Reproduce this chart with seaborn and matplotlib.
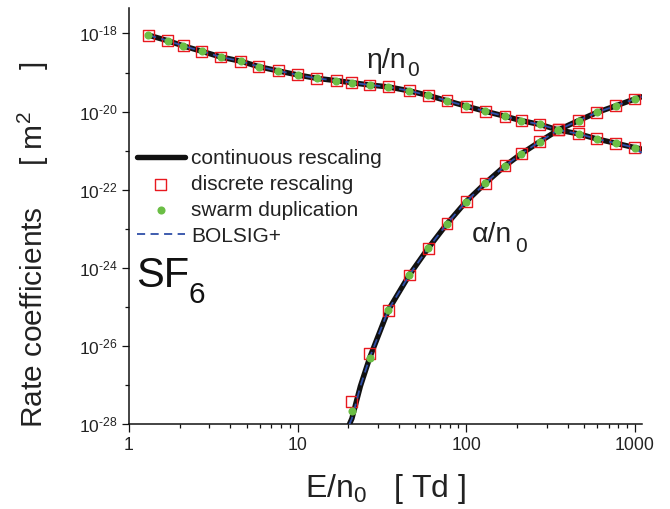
import numpy as np
import pandas as pd
import matplotlib
matplotlib.use("Agg")
import matplotlib.pyplot as plt
import seaborn as sns
from matplotlib.ticker import FixedLocator, NullFormatter, FuncFormatter

# ---------------- data ----------------
E_eta = [1.3, 1.7, 2.1, 2.7, 3.5, 4.6, 5.9, 7.7, 10.0, 13.0, 17.0, 21.0, 26.8, 34.5,
         46.0, 59.5, 77.0, 100.0, 130.0, 170.0, 212.0, 273.0, 352.0, 464.0, 596.0, 773.0, 1000.0]
eta_discrete = [9.1e-19, 6.5e-19, 4.8e-19, 3.5e-19, 2.5e-19, 1.95e-19, 1.41e-19, 1.10e-19,
                8.7e-20, 7.1e-20, 6.2e-20, 5.5e-20, 4.8e-20, 4.3e-20, 3.4e-20, 2.6e-20,
                1.9e-20, 1.38e-20, 1.02e-20, 7.6e-21, 5.9e-21, 4.7e-21, 3.4e-21, 2.7e-21,
                2.0e-21, 1.55e-21, 1.2e-21]
eta_swarm = eta_discrete

E_alpha = [21.0, 26.8, 34.5, 46.0, 59.5, 77.0, 100.0, 130.0, 170.0, 212.0, 273.0, 352.0,
           464.0, 596.0, 773.0, 1000.0]
alpha_discrete = [3.9e-28, 6.6e-27, 8.3e-26, 6.6e-25, 3.2e-24, 1.35e-23, 5.0e-23, 1.48e-22,
                  4.1e-22, 8.3e-22, 1.7e-21, 3.4e-21, 5.9e-21, 9.5e-21, 1.41e-20, 2.1e-20]
alpha_swarm = [2.2e-28, 5.1e-27, 8.3e-26, 6.6e-25, 3.2e-24, 1.35e-23, 5.0e-23, 1.48e-22,
               4.1e-22, 8.3e-22, 1.7e-21, 3.4e-21, 5.9e-21, 9.5e-21, 1.41e-20, 2.1e-20]

# continuous rescaling curves
E_eta_line = E_eta + [1100.0]
eta_line = eta_discrete + [1.1e-21]
E_alpha_line = [20.3, 21.0, 23.6, 26.8, 34.5, 46.0, 59.5, 77.0, 100.0, 130.0, 170.0, 212.0,
                273.0, 352.0, 464.0, 596.0, 773.0, 1000.0, 1100.0]
alpha_line = [1.0e-28, 1.4e-28, 9.5e-28, 5.1e-27, 8.3e-26, 6.6e-25, 3.2e-24, 1.35e-23,
              5.0e-23, 1.48e-22, 4.1e-22, 8.3e-22, 1.7e-21, 3.4e-21, 5.9e-21, 9.5e-21,
              1.41e-20, 2.1e-20, 2.4e-20]
# BOLSIG+ curves
eta_bolsig = eta_discrete + [8.7e-22]
alpha_bolsig = alpha_line

x_ticks = [1, 10, 100, 1000]
x_tick_labels = ["1", "10", "100", "1000"]
y_major = [1e-28, 1e-26, 1e-24, 1e-22, 1e-20, 1e-18]
y_minor = [1e-27, 1e-25, 1e-23, 1e-21, 1e-19]
x_minor = [m * d for d in (1, 10, 100) for m in range(2, 10)]

# ---------------- style ----------------
sns.set_theme(style="ticks")
plt.rcParams["font.family"] = ["Liberation Sans", "DejaVu Sans"]
plt.rcParams["mathtext.fontset"] = "custom"
plt.rcParams["mathtext.rm"] = "Liberation Sans"
plt.rcParams["mathtext.it"] = "Liberation Sans:italic"
plt.rcParams["mathtext.bf"] = "Liberation Sans:bold"
plt.rcParams["axes.unicode_minus"] = False

W, H = 670, 509
fig = plt.figure(figsize=(W / 100, H / 100), dpi=100)
L, R, B, T = 129.0, 641.7, 424.3, 8.3
ax = fig.add_axes([L / W, 1 - B / H, (R - L) / W, (B - T) / H])

BLACK = "#111111"
RED = "#E8191F"
GREEN = "#6BBE45"
BLUE = "#2F4FA8"

sns.lineplot(x=E_eta_line, y=eta_line, color=BLACK, lw=3.9, ax=ax, sort=False,
             estimator=None, label="continuous rescaling", zorder=2)
sns.lineplot(x=E_alpha_line, y=alpha_line, color=BLACK, lw=3.9, ax=ax, sort=False,
             estimator=None, zorder=2)
sns.scatterplot(x=E_eta, y=eta_discrete, marker="s", s=62, fc="none", ec=RED, linewidth=1.0,
                ax=ax, label="discrete rescaling", zorder=3)
sns.scatterplot(x=E_alpha, y=alpha_discrete, marker="s", s=62, fc="none", ec=RED, linewidth=1.0,
                ax=ax, zorder=3)
sns.lineplot(x=E_eta_line, y=eta_bolsig, color=BLUE, lw=1.3, ax=ax, sort=False,
             estimator=None, label="BOLSIG+", zorder=4, linestyle=(0, (4.5, 3)))
sns.lineplot(x=E_alpha_line, y=alpha_bolsig, color=BLUE, lw=1.3, ax=ax, sort=False,
             estimator=None, zorder=4, linestyle=(0, (4.5, 3)))
sns.scatterplot(x=E_eta, y=eta_swarm, marker="o", s=34, color=GREEN, linewidth=0,
                ax=ax, label="swarm duplication", zorder=5)
sns.scatterplot(x=E_alpha, y=alpha_swarm, marker="o", s=34, color=GREEN, linewidth=0,
                ax=ax, zorder=5)

ax.set_xscale("log")
ax.set_yscale("log")
ax.set_xlim(1, 1100)
ax.set_ylim(1e-28, 4.4e-18)

ax.xaxis.set_major_locator(FixedLocator(x_ticks))
ax.set_xticklabels(x_tick_labels)
ax.xaxis.set_minor_locator(FixedLocator(x_minor))
ax.xaxis.set_minor_formatter(NullFormatter())
ax.yaxis.set_major_locator(FixedLocator(y_major))
ax.yaxis.set_major_formatter(FuncFormatter(
    lambda v, p: r"10$^{\text{-%d}}$" % int(round(-np.log10(v)))))
ax.yaxis.set_minor_locator(FixedLocator(y_minor))
ax.yaxis.set_minor_formatter(NullFormatter())

for s in ("top", "right"):
    ax.spines[s].set_visible(False)
for s in ("left", "bottom"):
    ax.spines[s].set_linewidth(1.1)
    ax.spines[s].set_color("#111111")

ax.tick_params(axis="x", which="major", direction="out", length=6, width=0.9,
               labelsize=12.7, pad=3, colors="#111111", labelcolor="#222222")
ax.tick_params(axis="x", which="minor", direction="out", length=3, width=0.9, colors="#111111")
ax.tick_params(axis="y", which="major", direction="out", length=5, width=0.9,
               labelsize=12.5, pad=3, colors="#111111", labelcolor="#222222")
ax.tick_params(axis="y", which="minor", direction="out", length=3, width=0.9, colors="#111111")

ax.set_xlabel("E/n$_0$   [ Td ]", fontsize=23, va="baseline", color="#222222")
ax.xaxis.set_label_coords(0.501, (B - 497) / (B - T))
ax.set_ylabel("Rate coefficients     [ m$^2$     ]", fontsize=21.5, va="center", ha="center",
              color="#222222")
ax.yaxis.set_label_coords((33 - L) / (R - L), (B - 245) / (B - T))

def axfrac(px, py):
    return (px - L) / (R - L), (B - py) / (B - T)

ax.text(*axfrac(366, 68.3), "η/n", fontsize=20.5, transform=ax.transAxes,
        ha="left", va="baseline", color="#222222")
ax.text(*axfrac(407.5, 76), "0", fontsize=15, transform=ax.transAxes,
        ha="left", va="baseline", color="#222222")
ax.text(*axfrac(472, 241.7), "α/n", fontsize=20.5, transform=ax.transAxes,
        ha="left", va="baseline", color="#222222")
ax.text(*axfrac(515.5, 251.7), "0", fontsize=15, transform=ax.transAxes,
        ha="left", va="baseline", color="#222222")
ax.text(*axfrac(136.5, 286.7), "SF", fontsize=30, transform=ax.transAxes,
        ha="left", va="baseline", color="#111111")
ax.text(*axfrac(189, 303.3), "6", fontsize=21.5, transform=ax.transAxes,
        ha="left", va="baseline", color="#111111")

handles, labels = ax.get_legend_handles_labels()
order = ["continuous rescaling", "discrete rescaling", "swarm duplication", "BOLSIG+"]
hmap = dict(zip(labels, handles))
ax.legend([hmap[k] for k in order], order, loc="upper left",
          bbox_to_anchor=axfrac(136.7, 149.5), borderaxespad=0, borderpad=0,
          frameon=False, fontsize=15, handlelength=2.3, handletextpad=0.3,
          labelspacing=0.32, labelcolor="#222222")

fig.savefig("out.png", dpi=100)
